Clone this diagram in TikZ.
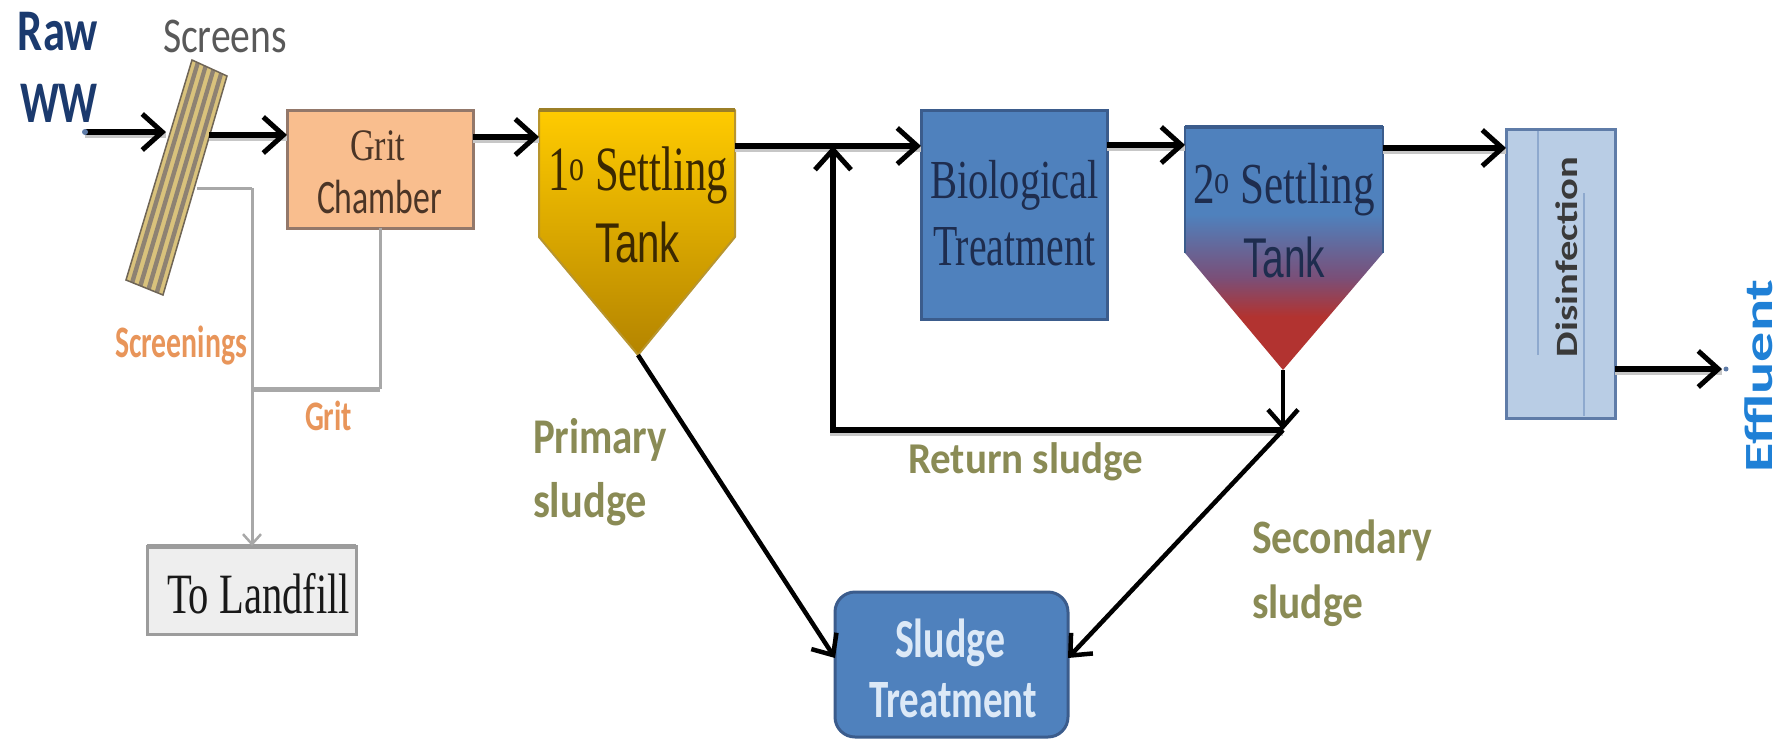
\documentclass[tikz,border=0pt]{standalone}
\usepackage{fontspec}
\usepackage{graphicx}
\setmainfont{Liberation Serif}
\newfontfamily\calfont{Carlito}
\newfontfamily\arlfont{Liberation Sans}
\usetikzlibrary{arrows.meta,calc}
\newcommand\fw[2]{\resizebox{#1pt}{\height}{#2}}
\newcommand\fs[1]{\fontsize{#1}{#1}\selectfont}
\definecolor{navy}{HTML}{1B3A6E}
\definecolor{scrgray}{HTML}{595959}
\definecolor{orng}{HTML}{E8955A}
\definecolor{olive}{HTML}{8A8B55}
\definecolor{gritfill}{HTML}{F9BE8E}
\definecolor{gritdraw}{HTML}{93786A}
\definecolor{grittext}{HTML}{4B3526}
\definecolor{yTop}{HTML}{FFCB00}
\definecolor{yBot}{HTML}{B48400}
\definecolor{yDraw}{HTML}{B8952E}
\definecolor{yText}{HTML}{3B2800}
\definecolor{ofblue}{HTML}{4F81BD}
\definecolor{ofdraw}{HTML}{3B5C8C}
\definecolor{navytext}{HTML}{1E2D4F}
\definecolor{ttred}{HTML}{B23330}
\definecolor{ttpur}{HTML}{7A4F78}
\definecolor{disfill}{HTML}{B9CDE5}
\definecolor{disdraw}{HTML}{5F7CA8}
\definecolor{disline}{HTML}{8EA9CE}
\definecolor{disText}{HTML}{3A3A3A}
\definecolor{effblue}{HTML}{1F80D6}
\definecolor{lfill}{HTML}{EEEEEE}
\definecolor{ldraw}{HTML}{9C9C9C}
\definecolor{glin}{HTML}{A8A8A8}
\definecolor{scrtan}{HTML}{D9C27C}
\definecolor{scrstripe}{HTML}{8E8272}
\definecolor{scredge}{HTML}{6F6556}
\definecolor{sludgetext}{HTML}{DCE9F7}
\pgfdeclareverticalshading{tanktwo}{100bp}{color(0bp)=(ttred); color(36bp)=(ttred); color(44bp)=(ttpur); color(57bp)=(ofblue); color(100bp)=(ofblue)}
\begin{document}
\begin{tikzpicture}[x=1pt,y=-1pt,
  txt/.style={inner sep=0pt, outer sep=0pt, anchor=base},
  box/.style={inner sep=0pt, outer sep=0pt},
  halo/.style={preaction={draw=black!22, line width=6pt, arrows=-, transform canvas={yshift=-2.5pt}}},
  flow/.style={halo, line width=6pt, draw=black, -{Straight Barb[length=20pt,width=36pt,line width=5pt]}},
  sflow/.style={line width=4.5pt, draw=black, -{Straight Barb[length=17pt,width=30pt,line width=4.5pt]}},
  gline/.style={line width=3pt, draw=glin},
  garrow/.style={line width=3pt, draw=glin, -{Straight Barb[length=10pt,width=18pt,line width=2.5pt]}}]
\useasboundingbox (0,0) rectangle (1785,739);

% ---------- shapes ----------
% screens
\coordinate (sTL) at (192,60);
\coordinate (sTR) at (227,76);
\coordinate (sBR) at (163,295);
\coordinate (sBL) at (126,280);
\fill[scrtan] (sTL) -- (sTR) -- (sBR) -- (sBL) -- cycle;
\foreach \i in {1,3,5,7} {
  \fill[scrstripe] ($(sTL)!{\i/9}!(sTR)$) -- ($(sTL)!{(\i+1)/9}!(sTR)$) -- ($(sBL)!{(\i+1)/9}!(sBR)$) -- ($(sBL)!{\i/9}!(sBR)$) -- cycle;
}
\draw[scredge, line width=1.5pt] (sTL) -- (sTR) -- (sBR) -- (sBL) -- cycle;
\coordinate (scrIn) at (166,132);
\coordinate (scrOut) at (209,135);
\coordinate (scrS) at (197,188);

% grit chamber
\node[box, fill=gritfill, draw=gritdraw, line width=3pt, minimum width=186pt, minimum height=118pt] (grit) at (380,169) {};

% landfill
\node[box, fill=lfill, draw=ldraw, line width=3pt, minimum width=209pt, minimum height=88pt] (land) at (251.5,590) {};
\draw[ldraw, line width=5pt] (land.north west) -- (land.north east);

% primary settling tank
\node[box, minimum width=196pt, minimum height=127pt] (t1) at (637,173.5) {};
\coordinate (t1tip) at (638,355);
\shade[top color=yTop, bottom color=yBot] (t1.north west) -- (t1.north east) -- (t1.south east) -- (t1tip) -- (t1.south west) -- cycle;
\draw[yDraw, line width=2pt, line join=round] (t1.north west) -- (t1.north east) -- (t1.south east) -- (t1tip) -- (t1.south west) -- cycle;
\draw[yDraw!85!black, line width=4pt] (t1.north west) -- (t1.north east);

% biological treatment
\node[box, fill=ofblue, draw=ofdraw, line width=3pt, minimum width=186pt, minimum height=209pt] (bio) at (1014,214.5) {};

% secondary settling tank
\node[box, minimum width=198pt, minimum height=126pt] (t2) at (1284,190) {};
\coordinate (t2tip) at (1283,370);
\path[shading=tanktwo] (t2.north west) -- (t2.north east) -- (t2.south east) -- (t2tip) -- (t2.south west) -- cycle;
\draw[ofdraw, line width=2.5pt] (t2.south west) -- (t2.north west) -- (t2.north east) -- (t2.south east);
\draw[ofdraw, line width=4pt] (t2.north west) -- (t2.north east);

% disinfection
\node[box, fill=disfill, draw=disdraw, line width=3pt, minimum width=109pt, minimum height=289pt] (dis) at (1560.5,273.5) {};
\draw[disline, line width=1.5pt] (1538,131) -- (1538,355);
\draw[disline, line width=1.5pt] (1584,193) -- (1584,416);

% sludge treatment
\node[box, fill=ofblue, draw=ofdraw, line width=3pt, rounded corners=20pt, minimum width=233pt, minimum height=145pt] (st) at (951.5,664.5) {};

% ---------- texts ----------
\node[txt, text=navy, font=\calfont\bfseries\fs{59}] (raw1) at (58,50) {\fw{80}{Raw}};
\node[txt, text=navy, font=\calfont\bfseries\fs{59}] (raw2) at (59,122) {\fw{78}{WW}};
\node[txt, text=scrgray, font=\calfont\fs{50}] (scrlab) at (225,52) {\fw{124}{Screens}};
\node[txt, text=grittext, font=\fs{45}] (gritT1) at (377.5,160) {\fw{55}{Grit}};
\node[txt, text=grittext, font=\calfont\fs{48}] (gritT2) at (379.5,213) {\fw{125}{Chamber}};
\node[txt, text=orng, font=\calfont\bfseries\fs{45}] (scrnlab) at (181,357) {\fw{132}{Screenings}};
\node[txt, text=orng, font=\calfont\bfseries\fs{42}] (gritlab) at (328.5,430) {\fw{47}{Grit}};
\node[txt, text=black!90, font=\fs{57}] (landT) at (258.5,613) {\fw{183}{To Landfill}};
\node[txt, text=yText, font=\fs{63}] (t1T1) at (638,190) {\fw{180}{1\textsuperscript{o} Settling}};
\node[txt, text=yText, font=\arlfont\fs{56}] (t1T2) at (637.5,262) {\fw{85}{Tank}};
\node[txt, text=navytext, font=\fs{55}] (bioT1) at (1014.5,198) {\fw{169}{Biological}};
\node[txt, text=navytext, font=\fs{58}] (bioT2) at (1014,265) {\fw{162}{Treatment}};
\node[txt, text=navytext, font=\fs{58}] (t2T1) at (1284,203) {\fw{182}{2\textsuperscript{o} Settling}};
\node[txt, text=navytext, font=\arlfont\fs{56}] (t2T2) at (1284,277) {\fw{82}{Tank}};
\node[txt, rotate=90, text=disText, font=\calfont\bfseries\fs{31}] (disT) at (1577,257) {\fw{200}{Disinfection}};
\node[txt, rotate=90, text=effblue, font=\calfont\bfseries\fs{40}] (effT) at (1772,376) {\fw{193}{Effluent}};
\node[txt, text=olive, font=\calfont\bfseries\fs{50}] (prim1) at (600,453) {\fw{134}{Primary}};
\node[txt, text=olive, font=\calfont\bfseries\fs{50}] (prim2) at (590,517) {\fw{114}{sludge}};
\node[txt, text=olive, font=\calfont\bfseries\fs{44}] (retT) at (1025.5,473) {\fw{235}{Return sludge}};
\node[txt, text=olive, font=\calfont\bfseries\fs{48}] (sec1) at (1342,553) {\fw{180}{Secondary}};
\node[txt, text=olive, font=\calfont\bfseries\fs{48}] (sec2) at (1307.5,618) {\fw{111}{sludge}};
\node[txt, text=sludgetext, font=\calfont\bfseries\fs{55}] (stT1) at (950,657) {\fw{110}{Sludge}};
\node[txt, text=sludgetext, font=\calfont\bfseries\fs{54}] (stT2) at (953,717) {\fw{168}{Treatment}};

% ---------- connectors ----------
\coordinate (rawStart) at (85,132);
\coordinate (jn) at (833,146);
\coordinate (rc) at (833,430);
\coordinate (rj) at (1283,430);
\coordinate (effEnd) at (1722,369);
\coordinate (sc1) at (252,188);
\coordinate (g1) at (380,389);
\coordinate (g2) at (252,389);

\draw[flow] (rawStart) -- (scrIn);
\fill[disdraw] (rawStart) circle (3pt);
\draw[flow] (scrOut) -- (scrOut -| grit.west);
\draw[flow] (grit.east |- 0,137) -- (t1.west |- 0,137);
\draw[flow] (t1.east |- 0,146) -- (bio.west |- 0,146);
\draw[flow] (bio.east |- 0,145) -- (t2.west |- 0,145);
\draw[flow] (t2.east |- 0,148) -- (dis.west |- 0,148);
\draw[flow] (dis.east |- effEnd) -- (effEnd);
\fill[disdraw] (1726,369) circle (2.5pt);
\draw[flow] (rj) -- (rc) -- (jn);
\draw[sflow] (t2tip) -- (rj);
\draw[sflow] (t1tip) -- (st.west |- 0,658);
\draw[sflow] (rj) -- (st.east |- 0,658);

\draw[gline] (scrS) -- (sc1);
\draw[garrow] (sc1) -- (land.north -| sc1);
\draw[gline] (grit.south) -- (g1);
\draw[glin, line width=5pt] (g1) -- (g2);
\end{tikzpicture}
\end{document}
